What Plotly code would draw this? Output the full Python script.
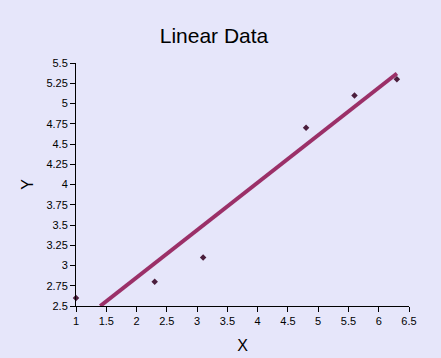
import plotly.graph_objects as go

# Data
x_vals = [1.0, 2.3, 3.1, 4.8, 5.6, 6.3]
y_vals = [2.6, 2.8, 3.1, 4.7, 5.1, 5.3]

# Linear trend line endpoints
trend_x = [1.4, 6.3]
trend_y = [2.5, 5.37]

x_ticks = [1, 1.5, 2, 2.5, 3, 3.5, 4, 4.5, 5, 5.5, 6, 6.5]
y_ticks = [2.5, 2.75, 3, 3.25, 3.5, 3.75, 4, 4.25, 4.5, 4.75, 5, 5.25, 5.5]

bg = "#E6E6FA"
font_family = "Arial, Liberation Sans, sans-serif"

fig = go.Figure()
fig.add_trace(go.Scatter(
    x=trend_x, y=trend_y, mode="lines",
    line=dict(color="#9B3068", width=4),
    hoverinfo="skip", showlegend=False,
))
fig.add_trace(go.Scatter(
    x=x_vals, y=y_vals, mode="markers",
    marker=dict(symbol="diamond", size=5, color="#4B1E3C"),
    cliponaxis=False, showlegend=False,
))

axis_common = dict(
    showgrid=False, zeroline=False, showline=True, automargin=False,
    linecolor="black", linewidth=1,
    ticks="outside", ticklen=5, tickcolor="black", tickwidth=1,
    tickfont=dict(family=font_family, size=11, color="black"),
)

fig.update_layout(
    width=441, height=358,
    margin=dict(l=76, r=32, t=63, b=52),
    paper_bgcolor=bg, plot_bgcolor=bg,
    title=dict(text="Linear Data", x=214/441, xref="container", xanchor="center",
               y=1 - 36/358, yref="container", yanchor="middle",
               font=dict(family=font_family, size=21, color="black")),
    xaxis=dict(range=[1, 6.5], tickvals=x_ticks,
               title=dict(text="X", standoff=13,
                          font=dict(family=font_family, size=16, color="black")),
               **axis_common),
    yaxis=dict(range=[2.5, 5.5], tickvals=y_ticks,
               title=dict(text="Y", standoff=8,
                          font=dict(family=font_family, size=16, color="black")),
               **axis_common),
)

fig.write_html("out.html")
